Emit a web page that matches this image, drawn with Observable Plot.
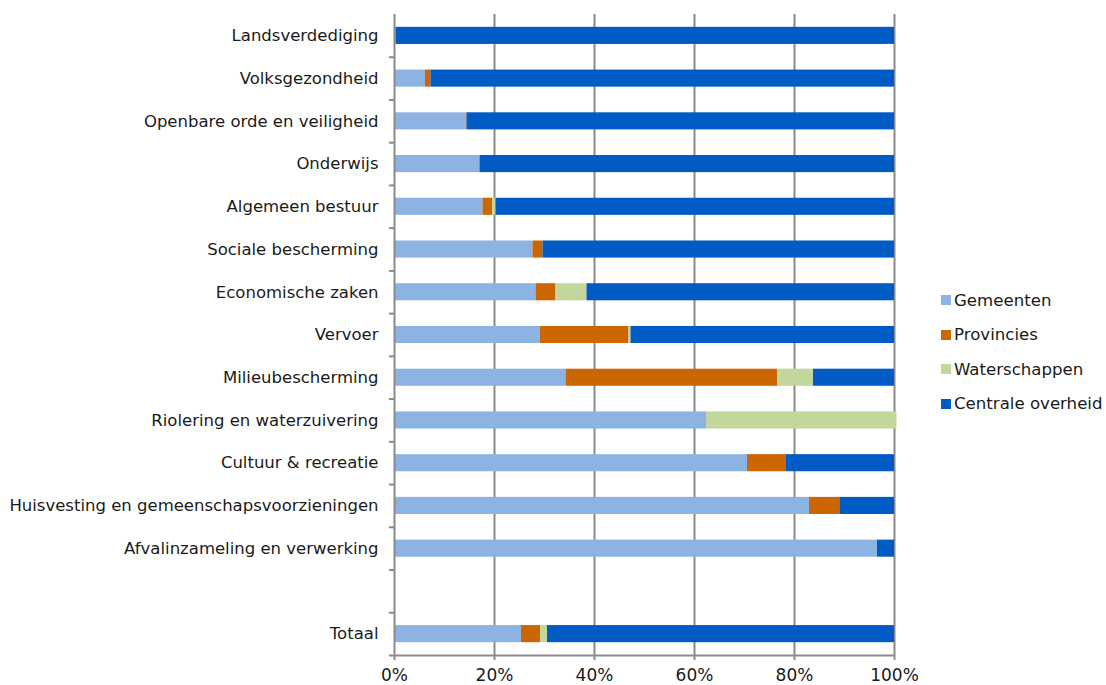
<!DOCTYPE html>
<html><head><meta charset="utf-8">
<script src="https://cdn.jsdelivr.net/npm/d3@7"></script>
<script src="https://cdn.jsdelivr.net/npm/@observablehq/plot@0.6"></script>
<style>
body{margin:0;background:#fff;}
#wrap{position:relative;width:1106px;height:685px;font-family:"DejaVu Sans",sans-serif;}
#legend{position:absolute;left:941px;top:283px;font-size:16.6px;color:#1a1a1a;}
#legend div{height:34.5px;display:flex;align-items:center;}
#legend span.sw{display:inline-block;width:10px;height:10px;margin-right:3px;}
</style>
</head><body>
<div id="wrap"><div id="chart"></div><div id="legend"></div></div>
<script>
const categories = ["Landsverdediging","Volksgezondheid","Openbare orde en veiligheid","Onderwijs","Algemeen bestuur","Sociale bescherming","Economische zaken","Vervoer","Milieubescherming","Riolering en waterzuivering","Cultuur & recreatie","Huisvesting en gemeenschapsvoorzieningen","Afvalinzameling en verwerking","Totaal"];
const gemeenten     = [0.3, 6.2, 14.4, 17.1, 17.7, 27.7, 28.3, 29.2, 34.3, 62.4, 70.6, 83.0, 96.6, 25.4];
const provincies    = [0,   1.1, 0.1,  0,    1.9,  2.0,  4.0,  17.7, 42.3, 0,    7.8,  6.2,  0,    3.8];
const waterschappen = [0,   0,   0,    0,    0.7,  0,    6.2,  0.4,  7.2,  38.1, 0,    0,    0,    1.4];
const centrale      = [99.7,92.7,85.5, 82.9, 79.7, 70.3, 61.5, 52.7, 16.2, 0,    21.6, 10.8, 3.4,  69.4];
const seriesNames  = ["Gemeenten","Provincies","Waterschappen","Centrale overheid"];
const seriesColors = ["#8DB3E2","#CC6600","#C3D69B","#005BC4"];
const xTicks = [0,20,40,60,80,100];
const gapLabel = " ";
const yDomain = [...categories.slice(0,13), gapLabel, "Totaal"];

const seriesValues = [gemeenten, provincies, waterschappen, centrale];
const rows = [];
categories.forEach((c,i) => seriesNames.forEach((s,j) => {
  if (seriesValues[j][i] > 0) rows.push({cat:c, series:s, value:seriesValues[j][i]});
}));

const W = 1106, H = 685, mt = 14, mb = 30, ml = 394, mr = 212;
const step = (H - mt - mb) / yDomain.length;

const chart = Plot.plot({
  width: W, height: H,
  marginLeft: ml, marginRight: mr, marginTop: mt, marginBottom: mb,
  style: {fontFamily: '"DejaVu Sans", sans-serif', fontSize: "16.5px", color: "#1a1a1a", background: "#fff"},
  x: {domain: [0,100], label: null},
  y: {domain: yDomain, paddingInner: 0.6, paddingOuter: 0.3, round: false, label: null},
  color: {domain: seriesNames, range: seriesColors},
  marks: [
    Plot.ruleX(xTicks.slice(1), {stroke: "#8a8a8a", strokeWidth: 2}),
    Plot.barX(rows, Plot.stackX({x: "value", y: "cat", fill: "series", order: seriesNames})),
    Plot.ruleY(yDomain, {y: d => d, dy: step/2, x1: -1, x2: 0, stroke: "#8a8a8a", strokeWidth: 2}),
    Plot.ruleX([0], {stroke: "#8a8a8a", strokeWidth: 2}),
    Plot.ruleY([yDomain[yDomain.length-1]], {dy: step/2, x1: 0, x2: 100, stroke: "#8a8a8a", strokeWidth: 2}),
    Plot.axisX(xTicks, {tickSize: 5, stroke: "#8a8a8a", strokeWidth: 2, tickPadding: 8, tickFormat: d => d + "%", fontSize: 17, fill: "#1a1a1a", label: null}),
    Plot.axisY({tickSize: 0, tickPadding: 16, fontSize: 16.5, fill: "#1a1a1a", label: null})
  ]
});
document.getElementById("chart").appendChild(chart);

const leg = document.getElementById("legend");
seriesNames.forEach((s,i) => {
  const d = document.createElement("div");
  d.innerHTML = `<span class="sw" style="background:${seriesColors[i]}"></span>${s}`;
  leg.appendChild(d);
});
</script>
</body></html>
